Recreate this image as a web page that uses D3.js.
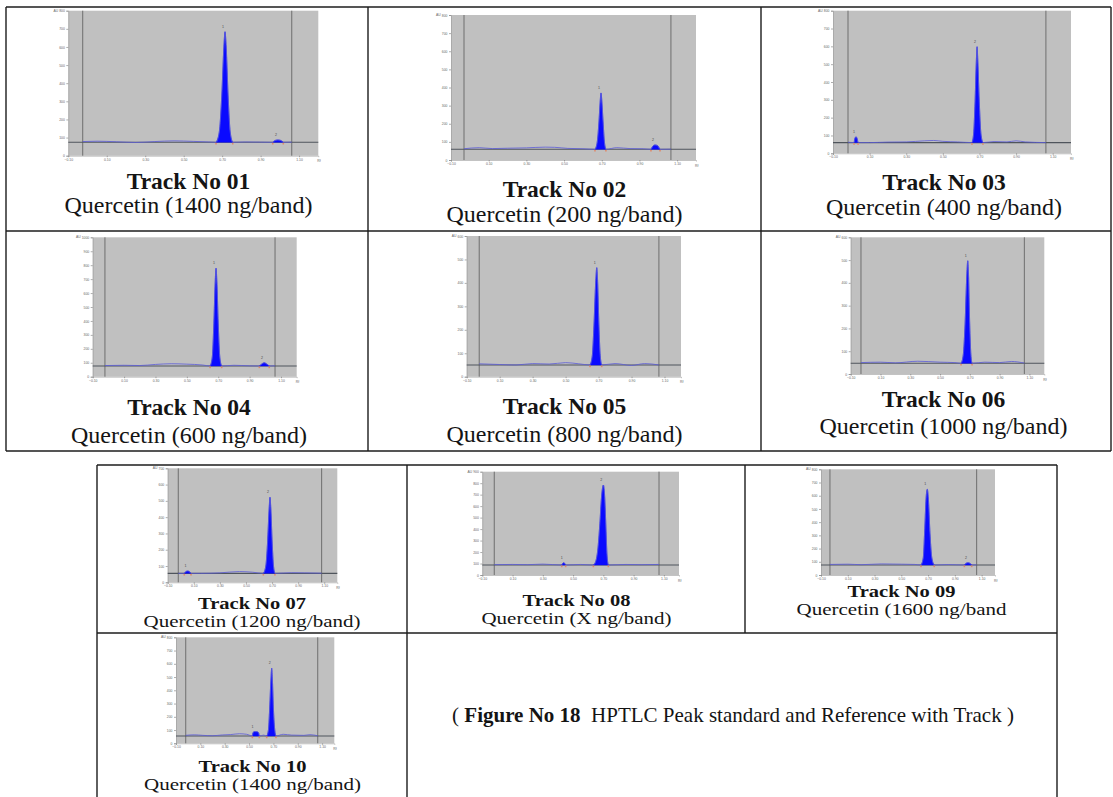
<!DOCTYPE html>
<html>
<head>
<meta charset="utf-8">
<script src="https://cdn.jsdelivr.net/npm/d3@7"></script>
<style>
  html, body { margin: 0; padding: 0; background: #ffffff; }
  svg { display: block; }
</style>
</head>
<body>
<svg id="fig" width="1113" height="797"></svg>
<script>
// ---- Track captions ----
const trackTitles = [
  "Track No 01", "Track No 02", "Track No 03", "Track No 04", "Track No 05",
  "Track No 06", "Track No 07", "Track No 08", "Track No 09", "Track No 10"
];
const trackLoads = [
  "Quercetin (1400 ng/band)", "Quercetin (200 ng/band)", "Quercetin (400 ng/band)",
  "Quercetin (600 ng/band)", "Quercetin (800 ng/band)", "Quercetin (1000 ng/band)",
  "Quercetin (1200 ng/band)", "Quercetin (X ng/band)", "Quercetin (1600 ng/band",
  "Quercetin (1400 ng/band)"
];

// ---- Densitogram axes (AU) ----
const yMaxAU  = [800, 800, 800, 1000, 600, 600, 700, 900, 800, 800];
const yStepAU = [100, 100, 100, 100, 100, 100, 100, 100, 100, 100];
const rfTicks = [-0.10, 0.10, 0.30, 0.50, 0.70, 0.90, 1.10];
const rfDomain = [-0.10, 1.20];

// Baseline level of each track (AU)
const baselineAU = [74, 59, 60, 77, 50, 47, 55, 87, 76, 55];

// Application position and front markers (Rf)
const scanStartRf = [-0.025, -0.031, -0.018, -0.022, -0.024, -0.031, -0.019, -0.021, -0.033, -0.020];
const scanEndRf   = [1.062, 1.067, 1.063, 1.062, 1.066, 1.066, 1.080, 1.068, 1.063, 1.064];

// ---- Background signal between peaks [Rf, AU] ----
const trace01 = [[-0.025,78],[0.05,80],[0.15,77],[0.25,73],[0.35,78],[0.45,82],[0.55,79],[0.63,76],
                 [0.82,76],[0.90,75],[1.062,75]];
const trace02 = [[-0.031,62],[0.05,68],[0.12,63],[0.20,65],[0.30,67],[0.40,71],[0.45,70],[0.52,64],[0.60,62],
                 [0.78,68],[0.85,63],[0.92,62],[1.067,60]];
const trace03 = [[-0.018,62],[0.10,60],[0.20,63],[0.30,64],[0.40,70],[0.45,72],[0.50,67],[0.58,64],
                 [0.78,66],[0.85,64],[0.90,70],[0.95,64],[1.063,60]];
const trace04 = [[-0.022,80],[0.10,82],[0.20,80],[0.30,88],[0.40,93],[0.50,90],[0.60,84],
                 [0.80,82],[0.90,78],[1.062,78]];
const trace05 = [[-0.024,55],[0.10,52],[0.20,50],[0.30,56],[0.40,54],[0.50,60],[0.58,55],
                 [0.80,56],[0.90,48],[0.98,56],[1.066,50]];
const trace06 = [[-0.031,50],[0.10,52],[0.20,49],[0.35,56],[0.50,52],[0.60,50],
                 [0.80,52],[0.90,50],[0.98,55],[1.066,48]];
const trace07 = [[-0.019,55],[0.15,55],[0.30,58],[0.45,66],[0.55,62],
                 [0.85,59],[0.95,58],[1.080,56]];
const trace08 = [[-0.021,90],[0.10,92],[0.20,90],[0.30,95],[0.55,92],
                 [0.85,92],[0.95,90],[1.068,92]];
const trace09 = [[-0.033,80],[0.10,82],[0.20,78],[0.35,84],[0.50,82],[0.60,80],
                 [0.85,79],[1.063,77]];
const trace10 = [[-0.020,60],[0.05,64],[0.12,60],[0.20,57],[0.28,63],[0.35,66],[0.42,72],[0.48,68],
                 [0.62,62],[0.78,68],[0.85,62],[0.95,60],[1.00,65],[1.064,57]];

// ---- Integrated peaks [Rf, AU] ----
const peaks01 = [
  [[0.668,74],[0.685,130],[0.698,330],[0.709,600],[0.715,684],[0.721,600],[0.731,330],[0.742,130],[0.755,74]],
  [[0.963,74],[0.975,84],[0.990,87],[1.005,84],[1.018,74]]
];
const peaks02 = [
  [[0.664,59],[0.676,100],[0.685,210],[0.692,330],[0.696,370],[0.700,330],[0.707,210],[0.714,100],[0.722,59]],
  [[0.961,59],[0.970,75],[0.982,83],[0.995,80],[1.009,59]]
];
const peaks03 = [
  [[0.015,60],[0.020,85],[0.026,93],[0.031,85],[0.037,60]],
  [[0.659,60],[0.668,110],[0.676,290],[0.683,520],[0.687,598],[0.691,520],[0.699,290],[0.708,110],[0.719,60]]
];
const peaks04 = [
  [[0.648,77],[0.662,140],[0.672,380],[0.681,690],[0.686,778],[0.691,690],[0.700,380],[0.710,140],[0.722,77]],
  [[0.962,77],[0.978,92],[0.992,100],[1.008,92],[1.025,77]]
];
const peaks05 = [
  [[0.648,50],[0.662,90],[0.672,220],[0.683,410],[0.689,465],[0.694,410],[0.702,220],[0.710,90],[0.719,50]]
];
const peaks06 = [
  [[0.641,47],[0.656,85],[0.668,220],[0.680,440],[0.686,497],[0.691,440],[0.699,220],[0.707,85],[0.715,47]]
];
const peaks07 = [
  [[0.027,55],[0.040,66],[0.052,69],[0.065,66],[0.079,55]],
  [[0.633,55],[0.652,100],[0.665,240],[0.678,460],[0.684,522],[0.690,460],[0.701,240],[0.711,100],[0.722,55]]
];
const peaks08 = [
  [[0.425,87],[0.432,102],[0.438,107],[0.444,102],[0.451,87]],
  [[0.634,87],[0.650,120],[0.664,230],[0.677,450],[0.688,680],[0.700,784],[0.708,700],[0.716,450],[0.724,180],[0.733,87]]
];
const peaks09 = [
  [[0.647,76],[0.664,130],[0.674,320],[0.685,580],[0.694,649],[0.702,580],[0.714,320],[0.728,130],[0.746,76]],
  [[0.971,76],[0.984,89],[0.998,93],[1.012,89],[1.026,76]]
];
const peaks10 = [
  [[0.527,55],[0.533,82],[0.545,88],[0.565,87],[0.578,80],[0.584,55]],
  [[0.645,55],[0.659,100],[0.668,240],[0.679,470],[0.686,566],[0.692,470],[0.701,240],[0.711,100],[0.721,55]]
];

const traces = [trace01, trace02, trace03, trace04, trace05, trace06, trace07, trace08, trace09, trace10];
const peaks  = [peaks01, peaks02, peaks03, peaks04, peaks05, peaks06, peaks07, peaks08, peaks09, peaks10];

// ---- Page layout ----
// plot area of each densitogram: left, top, right, bottom
const plotBox = [
  [68.3, 10.7, 318.3, 155.7], [451, 15, 696, 160], [833, 10.7, 1071, 153.3],
  [92.7, 237.3, 296.7, 376.7], [466.7, 236, 681, 376.7], [850.7, 237.3, 1044.3, 374],
  [167.7, 468.3, 337.3, 582.3], [482.3, 471.7, 679, 575], [821, 469.3, 995, 575],
  [176, 637.3, 334.3, 743.3]
];
// caption anchors: centre x, title baseline, load baseline, set width font size, drawn font size
const captionAt = [
  [188.5, 189, 213, 23.5, 23.5], [564.5, 197, 222, 23.5, 23.5], [944, 190, 215, 23.5, 23.5],
  [189, 415, 443, 23.5, 23.5], [564.5, 414, 441.5, 23.5, 23.5], [943.5, 406.5, 433.5, 23.5, 23.5],
  [252, 609, 627, 20.5, 16], [576.5, 605.5, 623.5, 20.5, 16], [901.5, 596.5, 614.5, 20.5, 16],
  [252.5, 771.5, 790, 20.5, 16.5]
];

const svg = d3.select("#fig");
const serif = "'Liberation Serif', 'Times New Roman', serif";
const sans = "'Liberation Sans', Arial, sans-serif";

// ---- Table frames ----
const frame = svg.append("g").attr("stroke", "#1c1c1c").attr("stroke-width", 1.4).attr("fill", "none");
function hline(x1, x2, yy) { frame.append("line").attr("x1", x1).attr("x2", x2).attr("y1", yy).attr("y2", yy); }
function vline(xx, y1, y2) { frame.append("line").attr("x1", xx).attr("x2", xx).attr("y1", y1).attr("y2", y2); }
// upper table (3 x 2)
hline(6, 1111, 7); hline(6, 1111, 231); hline(6, 1111, 451);
vline(6, 7, 451); vline(368, 7, 451); vline(761, 7, 451); vline(1111, 7, 451);
// lower table
hline(97, 1057, 465); hline(97, 1057, 633);
vline(97, 465, 800); vline(407, 465, 800); vline(745, 465, 633); vline(1057, 465, 800);

// caption line: the width is set at one size, the glyphs drawn at another
function captionText(cx, by, str, weight, widthSize, drawSize) {
  const t = svg.append("text").attr("x", cx).attr("y", by).attr("text-anchor", "middle")
    .attr("font-family", serif).attr("font-weight", weight).attr("font-size", widthSize)
    .attr("fill", "#141414").text(str);
  if (drawSize !== widthSize) {
    const w = t.node().getComputedTextLength();
    t.attr("font-size", drawSize).attr("textLength", w).attr("lengthAdjust", "spacingAndGlyphs");
  }
  return t;
}

// ---- Densitograms ----
function drawPanel(i) {
  const [x0, y0, x1, y1] = plotBox[i];
  const g = svg.append("g");
  const x = d3.scaleLinear().domain(rfDomain).range([x0, x1]);
  const y = d3.scaleLinear().domain([0, yMaxAU[i]]).range([y1, y0]);
  const base = baselineAU[i];

  g.append("rect").attr("x", x0).attr("y", y0).attr("width", x1 - x0).attr("height", y1 - y0)
    .attr("fill", "#c0c0c0");

  // axes
  const yAxis = d3.axisLeft(y)
    .tickValues(d3.range(0, yMaxAU[i] + 1, yStepAU[i]))
    .tickSize(2).tickPadding(1.5).tickFormat(d3.format("d"));
  const ya = g.append("g").attr("transform", `translate(${x0},0)`).call(yAxis);
  const xAxis = d3.axisBottom(x).tickValues(rfTicks).tickSize(1.5).tickPadding(1)
    .tickFormat(d3.format(".2f"));
  const xa = g.append("g").attr("transform", `translate(0,${y1})`).call(xAxis);
  [ya, xa].forEach(a => {
    a.select(".domain").attr("stroke", "#9a9a9a").attr("stroke-width", 0.6);
    a.selectAll(".tick line").attr("stroke", "#777").attr("stroke-width", 0.6);
    a.selectAll(".tick text").attr("font-size", 3.4).attr("font-family", sans).attr("fill", "#666");
  });
  const labelW = String(yMaxAU[i]).length * 1.9;
  g.append("text").attr("x", x0 - 4.5 - labelW).attr("y", y0 + 1).attr("text-anchor", "end")
    .attr("font-size", 3.4).attr("font-family", sans).attr("fill", "#666").text("AU");
  g.append("text").attr("x", x1 - 1).attr("y", y1 + 6.5).attr("font-size", 3.4)
    .attr("font-family", sans).attr("fill", "#666").text("Rf");

  // application / front markers
  [scanStartRf[i], scanEndRf[i]].forEach(r => {
    g.append("line").attr("x1", x(r)).attr("x2", x(r)).attr("y1", y0).attr("y2", y1)
      .attr("stroke", "#6e6e6e").attr("stroke-width", 1);
  });

  // baseline
  g.append("line").attr("x1", x0).attr("x2", x1).attr("y1", y(base)).attr("y2", y(base))
    .attr("stroke", "#4f555c").attr("stroke-width", 1.1);

  // filled peaks
  const area = d3.area().x(d => x(d[0])).y0(y(base)).y1(d => y(d[1])).curve(d3.curveMonotoneX);
  peaks[i].forEach(p => {
    g.append("path").datum(p).attr("d", area).attr("fill", "#0a0aff").attr("stroke", "#0a0aff")
      .attr("stroke-width", 0.5);
  });

  // full signal
  const signal = traces[i].concat(...peaks[i]).sort((a, b) => a[0] - b[0]);
  const line = d3.line().x(d => x(d[0])).y(d => y(d[1])).curve(d3.curveMonotoneX);
  g.append("path").datum(signal).attr("d", line).attr("fill", "none")
    .attr("stroke", "#5a5ad8").attr("stroke-width", 0.8);

  // peak numbers and integration limits
  peaks[i].forEach((p, k) => {
    const top = p.reduce((m, d) => d[1] > m[1] ? d : m, p[0]);
    g.append("text").attr("x", x(top[0]) - 3).attr("y", y(top[1]) - 4)
      .attr("font-size", 3.6).attr("font-family", sans).attr("fill", "#4a4a4a").text(k + 1);
    [p[0], p[p.length - 1]].forEach(d => {
      g.append("rect").attr("x", x(d[0]) - 0.8).attr("y", y(d[1]) + 0.6).attr("width", 1.6).attr("height", 1.6)
        .attr("fill", "#e08a6a");
    });
  });

  // captions
  const [cx, tY, lY, wSize, dSize] = captionAt[i];
  captionText(cx, tY, trackTitles[i], "bold", wSize, dSize);
  captionText(cx, lY, trackLoads[i], "normal", wSize + 0.5, dSize + 0.5);
}
d3.range(trackTitles.length).forEach(drawPanel);

// ---- Figure caption ----
const cap = svg.append("text").attr("x", 733).attr("y", 722).attr("text-anchor", "middle")
  .attr("font-family", serif).attr("font-size", 21).attr("fill", "#141414");
cap.append("tspan").text("( ");
cap.append("tspan").attr("font-weight", "bold").text("Figure No 18");
cap.append("tspan").text("\u00a0 HPTLC Peak standard and Reference with Track )");
</script>
</body>
</html>
